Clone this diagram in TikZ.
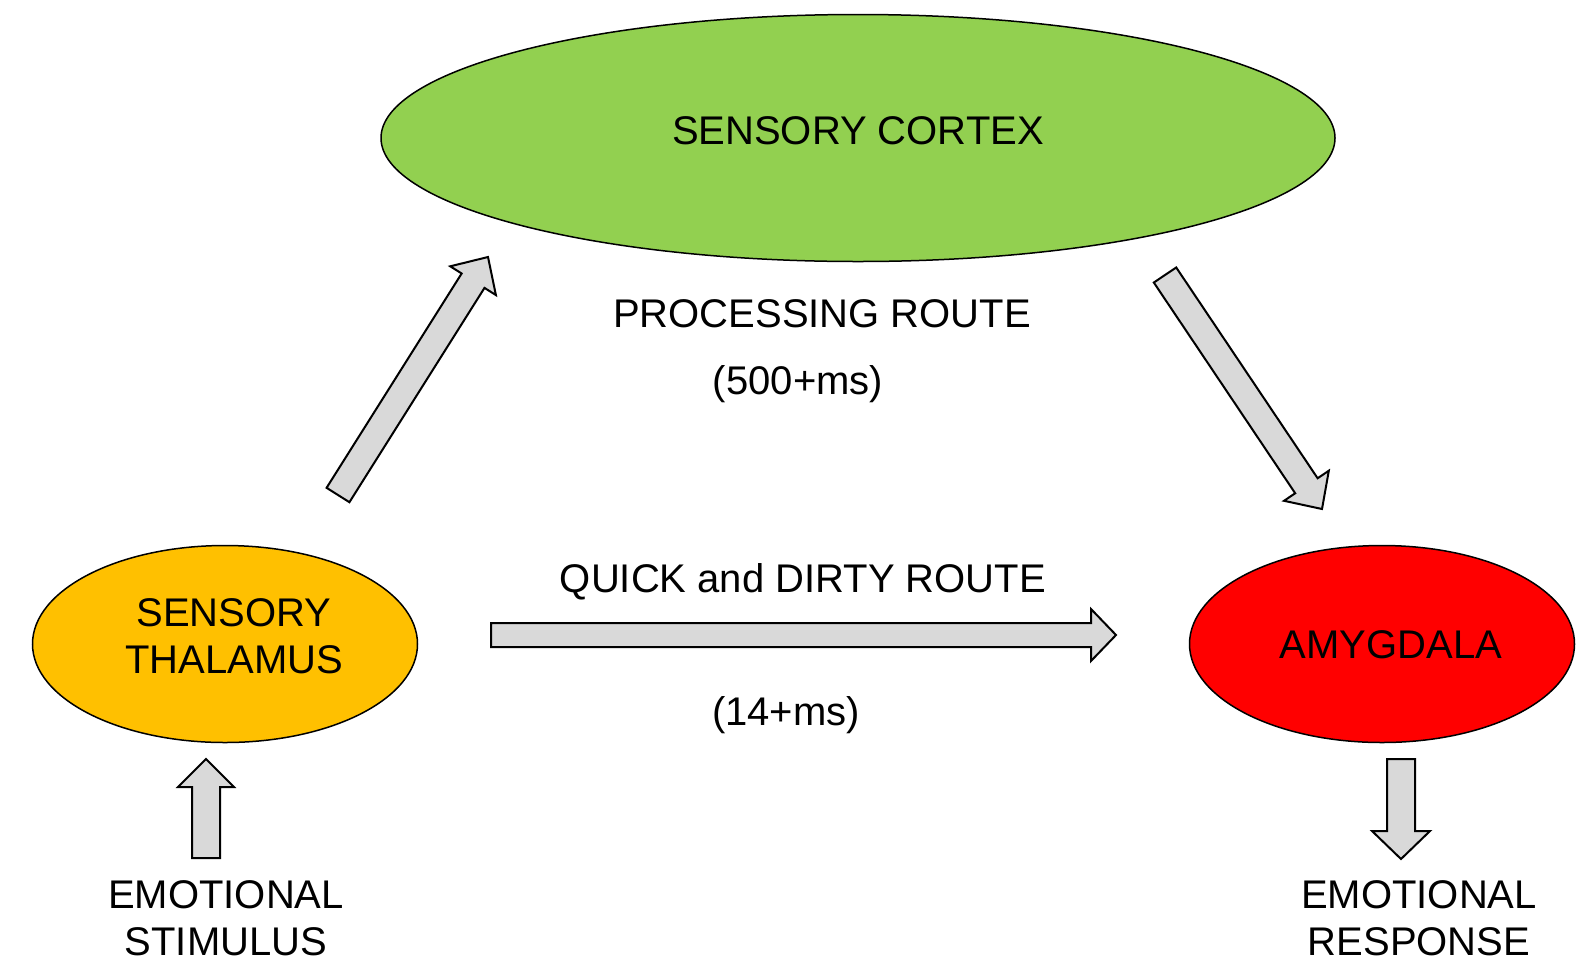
\documentclass[tikz,border=0pt]{standalone}
\usepackage{fontspec}
\setmainfont{Liberation Sans}
\usetikzlibrary{shapes.geometric,calc}
\definecolor{cgreen}{HTML}{92D050}
\definecolor{cyellow}{HTML}{FFC000}
\definecolor{cred}{HTML}{FF0000}
\definecolor{cgray}{HTML}{D9D9D9}
\tikzset{
  blob/.style={ellipse, draw=black, line width=1.5pt, inner sep=0pt},
  lbl/.style={font=\fontsize{40pt}{47.5pt}\selectfont, align=center, inner sep=0pt},
  barrow/.style={draw=black, fill=cgray, line width=2pt, line join=miter},
}
\newcommand\blockarrow[5]{%
  \coordinate (ba-c) at ($(#2)!#5!(#1)$);
  \draw[barrow] ($(#1)!#3!90:(#2)$) -- ($(ba-c)!#3!90:(#2)$) -- ($(ba-c)!#4!90:(#2)$) -- (#2)
     -- ($(ba-c)!#4!-90:(#2)$) -- ($(ba-c)!#3!-90:(#2)$) -- ($(#1)!#3!-90:(#2)$) -- cycle;}
\begin{document}
\begin{tikzpicture}[x=1pt,y=-1pt]
\useasboundingbox[fill=white] (0,0) rectangle (1581,970);
% ellipses
\node[blob, fill=cgreen, minimum width=954pt, minimum height=247pt] (cortex) at (858,138) {};
\node[blob, fill=cyellow, minimum width=385pt, minimum height=197pt] (thal) at (225,644) {};
\node[blob, fill=cred, minimum width=385pt, minimum height=197pt] (amyg) at (1382,644) {};
% labels
\node[lbl] (tcortex) at (858,131) {SENSORY CORTEX};
\node[lbl] (tthal) at (234,636) {SENSORY\\THALAMUS};
\node[lbl] (tamyg) at (1391,645) {AMYGDALA};
\node[lbl] (tproc) at (822,314) {PROCESSING ROUTE};
\node[lbl] (tproct) at (798,384) {(500+ms)};
\node[lbl] (tquick) at (803,582) {QUICK and DIRTY ROUTE};
\node[lbl] (tquickt) at (786,715) {(14+ms)};
\node[lbl] (tstim) at (226,918) {EMOTIONAL\\STIMULUS};
\node[lbl] (tresp) at (1419,918) {EMOTIONAL\\RESPONSE};
% arrow end points
\coordinate (a1s) at (338,495); \coordinate (a1e) at (488,257);
\coordinate (a2s) at (1165,275); \coordinate (a2e) at (1322,509);
\coordinate (a3s) at (491,635); \coordinate (a3e) at (1116,635);
\coordinate (a4s) at (206,858); \coordinate (a4e) at (206,759);
\coordinate (a5s) at (1401,759); \coordinate (a5e) at (1401,859);
\blockarrow{a1s}{a1e}{13.5pt}{27pt}{28pt}
\blockarrow{a2s}{a2e}{13.5pt}{27pt}{28pt}
\blockarrow{a3s}{a3e}{12pt}{26pt}{25pt}
\blockarrow{a4s}{a4e}{14pt}{28pt}{28pt}
\blockarrow{a5s}{a5e}{14pt}{29pt}{28pt}
\end{tikzpicture}
\end{document}
